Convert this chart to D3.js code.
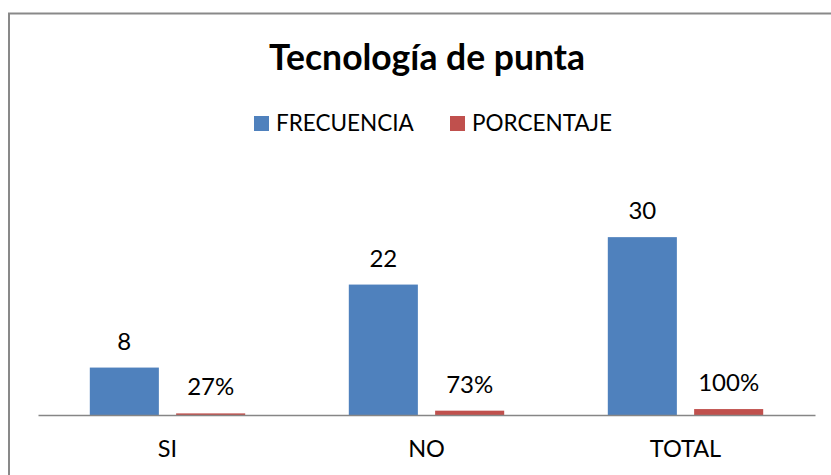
<!DOCTYPE html>
<html><head><meta charset="utf-8">
<script src="https://cdn.jsdelivr.net/npm/d3@7"></script>
<style>body{margin:0;background:#fff}svg{display:block}text{font-family:Lato,"Open Sans",sans-serif;fill:#000}</style>
</head><body>
<script>
const categories = ["SI", "NO", "TOTAL"];
const seriesNames = ["FRECUENCIA", "PORCENTAJE"];
const frecuencia = [8, 22, 30];
const porcentaje = [0.27, 0.73, 1.00];
const porcentajeLabels = ["27%", "73%", "100%"];
const title = "Tecnología de punta";
const colors = ["#4F81BD", "#C0504D"];

const W = 831, H = 475;
const svg = d3.select("body").append("svg").attr("width", W).attr("height", H);

// chart border
svg.append("rect").attr("x", 9).attr("y", 13.5).attr("width", 900).attr("height", 600)
  .attr("fill", "#fff").attr("stroke", "#898989").attr("stroke-width", 2);

svg.append("text").attr("x", 427).attr("y", 70).attr("text-anchor", "middle")
  .style("font-weight", "bold").style("font-size", "35.5px").text(title);

// legend
const legendX = [254, 450];
seriesNames.forEach((s, i) => {
  svg.append("rect").attr("x", legendX[i]).attr("y", 116).attr("width", 15).attr("height", 15).attr("fill", colors[i]);
  svg.append("text").attr("x", legendX[i] + 22).attr("y", 131).style("font-size", "22.5px").text(s);
});

const x0 = d3.scaleBand().domain(categories).range([38, 815]);
const x1 = d3.scaleBand().domain(seriesNames).range([x0.bandwidth() * 0.2, x0.bandwidth() * 0.8]).paddingInner(0.2);
const y = d3.scaleLinear().domain([0, 35]).range([415, 207.5]);

const rows = categories.map((c, i) => ({c, vals: [
  {s: seriesNames[0], v: frecuencia[i], label: String(frecuencia[i])},
  {s: seriesNames[1], v: porcentaje[i], label: porcentajeLabels[i]}
]}));

const g = svg.append("g");
const grp = g.selectAll("g.cat").data(rows).join("g").attr("class", "cat")
  .attr("transform", d => `translate(${x0(d.c)},0)`);
grp.selectAll("rect").data(d => d.vals).join("rect")
  .attr("x", d => x1(d.s)).attr("width", x1.bandwidth())
  .attr("y", d => y(d.v)).attr("height", d => y(0) - y(d.v))
  .attr("fill", (d, i) => colors[i]);
grp.selectAll("text").data(d => d.vals).join("text")
  .attr("x", d => x1(d.s) + x1.bandwidth() / 2).attr("y", d => y(d.v) - 18)
  .attr("text-anchor", "middle").style("font-size", "24px").text(d => d.label);

// axis
const xAxis = d3.axisBottom(x0).tickSize(0).tickPadding(25);
const ax = svg.append("g").attr("transform", `translate(0,${y(0)})`).call(xAxis);
ax.select(".domain").attr("stroke", "#868686").attr("stroke-width", 1.5);
ax.selectAll("text").style("font-size", "23.5px").style("font-family", "Lato").attr("fill", "#000").attr("dy", "0.71em");
</script>
</body></html>
